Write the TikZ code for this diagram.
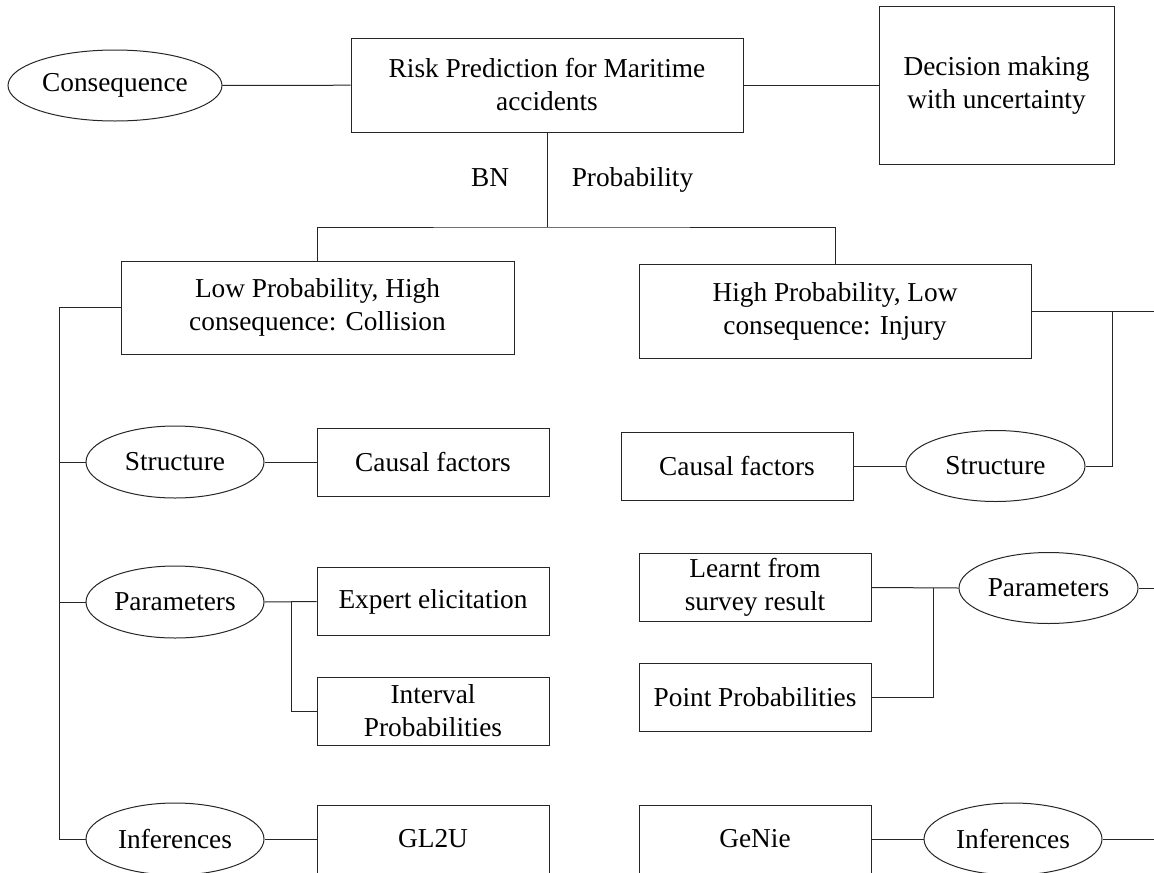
\documentclass[tikz,border=0pt]{standalone}
\usepackage{fontspec}
\setmainfont{Liberation Serif}
\usetikzlibrary{shapes.geometric,calc}
\tikzset{
  every node/.style={font=\fontsize{20.5}{24.75}\selectfont, align=center, inner sep=0pt},
  boxnode/.style={draw=black!85, line width=0.75pt, rectangle, minimum width=#1},
  boxnode/.default=174pt,
  ellnode/.style={draw=black!85, line width=0.75pt, ellipse, minimum width=#1, minimum height=54pt},
  ellnode/.default=133.5pt,
  conn/.style={draw=black!85, line width=0.75pt},
  lbl/.style={anchor=base}
}
\begin{document}
\begin{tikzpicture}[x=0.75pt,y=-0.75pt]
\useasboundingbox (0,0) rectangle (1154,872);
\clip (0,0) rectangle (1154,872);
% top row
\node[ellnode=160.5pt, minimum height=53.25pt] (cons) at (115,85.5) {Consequence};
\node[boxnode=294pt, minimum height=70.5pt] (risk) at (547,85) {Risk Prediction for Maritime\\accidents};
\node[boxnode=176.25pt, minimum height=118.5pt] (dec) at (996.5,85) {Decision making\\with uncertainty};
\node[lbl] (bn) at (490,186) {BN};
\node[lbl] (prob) at (632.5,186) {Probability};
% second level
\node[boxnode=294.75pt, minimum height=69.75pt] (lphc) at (317.5,307.5) {Low Probability, High\\consequence: Collision};
\node[boxnode=294pt, minimum height=70.5pt] (hplc) at (835,311) {High Probability, Low\\consequence: Injury};
% left branch
\node[ellnode] (lstr) at (175,462) {Structure};
\node[ellnode] (lpar) at (175,602) {Parameters};
\node[ellnode] (linf) at (175,839) {Inferences};
\node[boxnode, minimum height=51pt] (lcaus) at (433,462) {Causal factors};
\node[boxnode, minimum height=51pt] (lexp) at (433,601.5) {Expert elicitation};
\node[boxnode, minimum height=51pt] (linter) at (433,711) {Interval\\Probabilities};
\node[boxnode, minimum height=51pt] (lgl) at (433,839) {GL2U};
% right branch
\node[boxnode, minimum height=51pt] (rcaus) at (737,466) {Causal factors};
\node[ellnode=134.25pt, minimum height=53.25pt] (rstr) at (995.5,466) {Structure};
\node[boxnode, minimum height=51pt] (rlearn) at (755,587.5) {Learnt from\\survey result};
\node[boxnode, minimum height=51pt] (rpoint) at (755,697) {Point Probabilities};
\node[boxnode, minimum height=51pt] (rgenie) at (755,839) {GeNie};
\node[ellnode=134.25pt, minimum height=53.25pt] (rpar) at (1048.5,588) {Parameters};
\node[ellnode=133.5pt] (rinf) at (1013,839) {Inferences};
% junction coordinates
\coordinate (j1) at (547,227);
\coordinate (lt) at (59,839);
\coordinate (lj) at (291,602);
\coordinate (rj) at (1112,311);
\coordinate (redge) at (1160,311);
\coordinate (rj2) at (933,588);
% connectors
\draw[conn] (cons) -- (risk);
\draw[conn] (risk) -- (dec);
\draw[conn] (risk.south) -- (j1);
\draw[conn] (lphc.north) |- (j1) -| (hplc.north);
\draw[conn] (lphc.west) -| (lt) -- (linf.west);
\draw[conn] (lstr.west) -- (lstr.west -| lt);
\draw[conn] (lpar.west) -- (lpar.west -| lt);
\draw[conn] (lstr) -- (lcaus);
\draw[conn] (lpar.east) -- (lexp.west);
\draw[conn] (lj) |- (linter.west);
\draw[conn] (linf.east) -- (lgl.west);
\draw[conn] (hplc.east) -- (redge);
\draw[conn] (rj) |- (rstr.east);
\draw[conn] (rcaus) -- (rstr);
\draw[conn] (rpar.west) -- (rlearn.east);
\draw[conn] (rj2) |- (rpoint.east);
\draw[conn] (rpar.east) -- (rpar.east -| redge);
\draw[conn] (rgenie.east) -- (rinf.west);
\draw[conn] (rinf.east) -- (rinf.east -| redge);
\end{tikzpicture}
\end{document}
